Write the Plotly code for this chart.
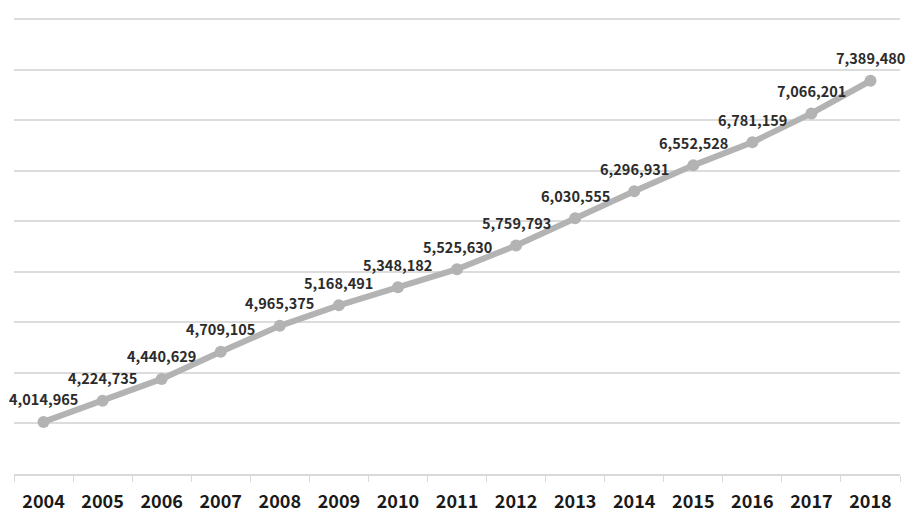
import plotly.graph_objects as go

years = ["2004", "2005", "2006", "2007", "2008", "2009", "2010", "2011",
         "2012", "2013", "2014", "2015", "2016", "2017", "2018"]
values = [4014965, 4224735, 4440629, 4709105, 4965375, 5168491, 5348182, 5525630,
          5759793, 6030555, 6296931, 6552528, 6781159, 7066201, 7389480]
labels = [f"{v:,}" for v in values]

fig = go.Figure()
fig.add_trace(go.Scatter(
    x=years, y=values, mode="lines+markers",
    line=dict(color="#b3b3b3", width=6),
    marker=dict(color="#b3b3b3", size=12),
    hoverinfo="skip",
))
for i, (v, lab) in enumerate(zip(values, labels)):
    fig.add_annotation(
        x=i, y=v, xref="x", yref="y", text=lab, showarrow=False, yshift=23,
        font=dict(family="Noto Sans CJK KR", size=14.5, color="#2b2b2b", weight="bold"),
    )

fig.update_layout(
    width=908, height=521,
    margin=dict(l=14, r=8, t=17, b=41),
    paper_bgcolor="white", plot_bgcolor="white",
    showlegend=False,
    font=dict(family="Noto Sans CJK KR"),
)
fig.update_xaxes(
    type="category", range=[-0.5, 14.5], showgrid=False, showline=True,
    linecolor="#d9d9d9", linewidth=2,
    ticks="outside", tickson="boundaries", ticklen=6, tickcolor="#d9d9d9", tickwidth=1,
    tickfont=dict(family="Noto Sans CJK KR", size=18, color="#1a1a1a", weight="bold"),
    ticklabelstandoff=10,
    zeroline=False,
)
fig.update_yaxes(
    range=[3500000, 8020000], dtick=500000, tick0=0,
    showgrid=True, gridcolor="#dcdcdc", gridwidth=2,
    showticklabels=False, zeroline=False, showline=False,
)

fig.write_html("out.html")
